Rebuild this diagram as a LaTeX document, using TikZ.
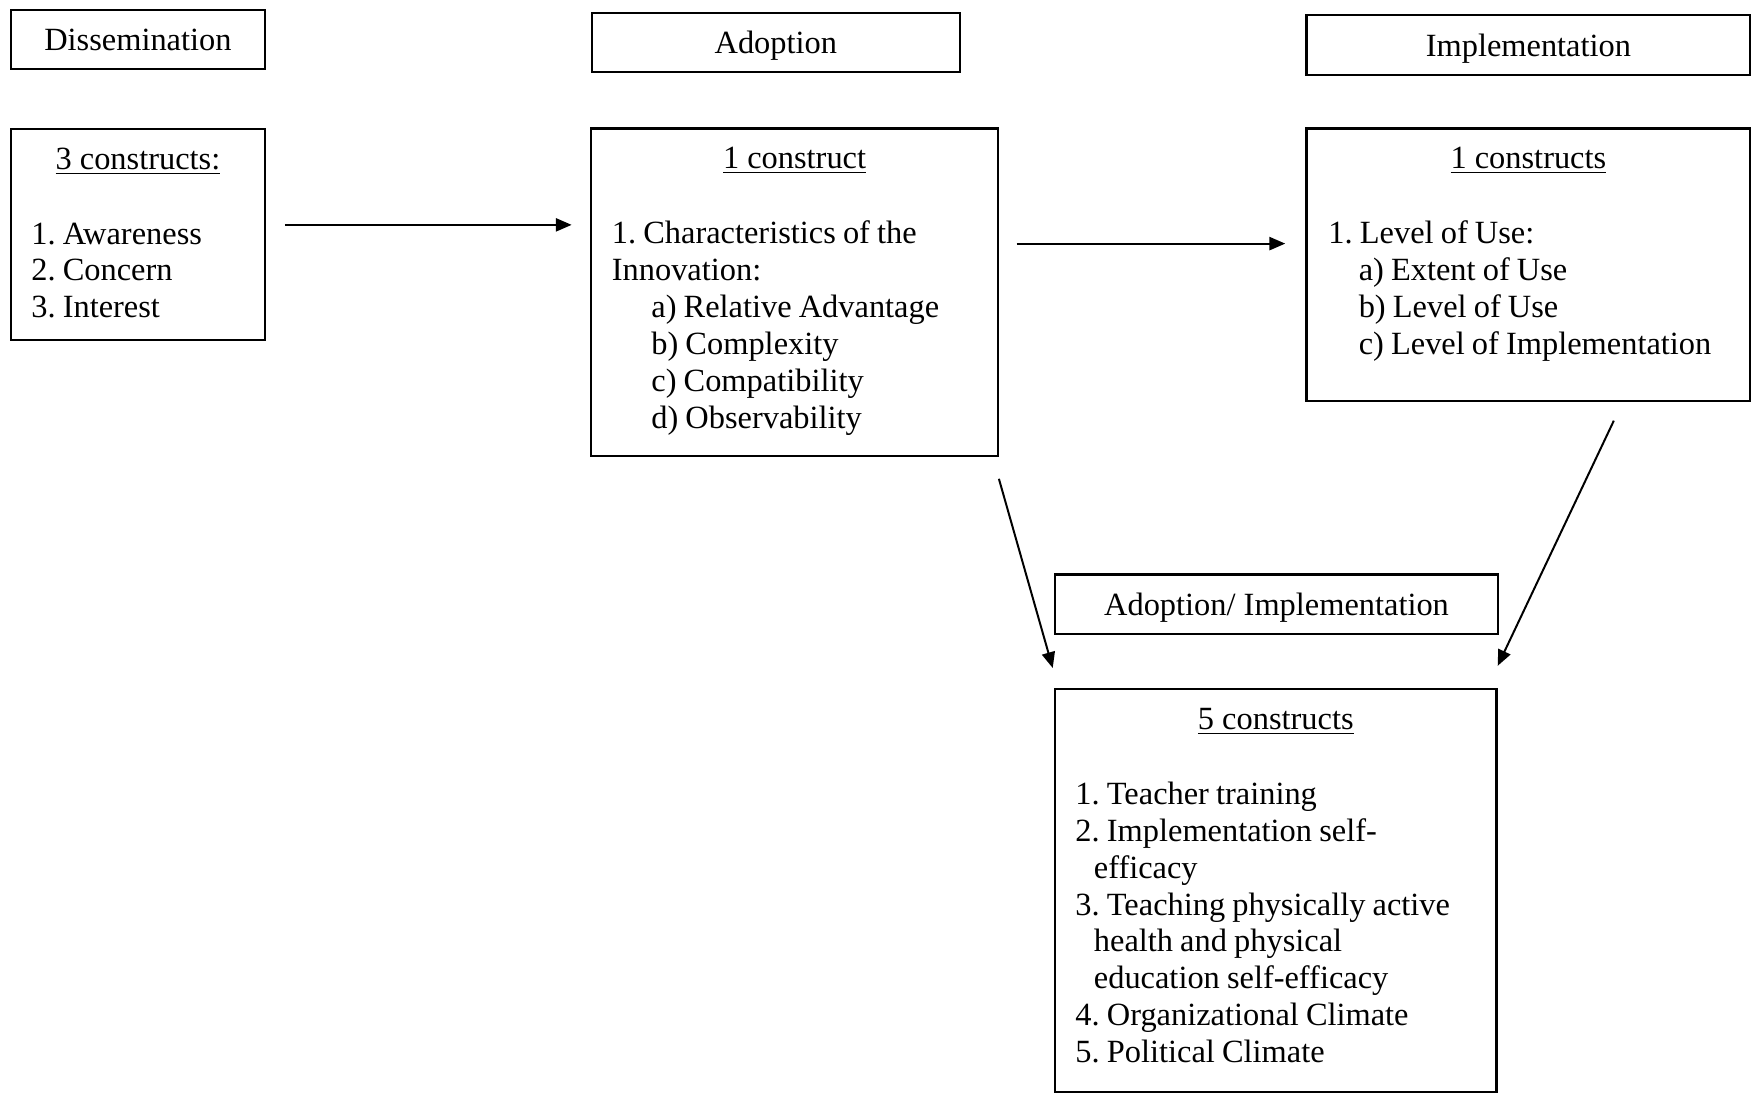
\documentclass[tikz,border=0pt]{standalone}
\usepackage{fontspec}
\setmainfont{Liberation Serif}
\usetikzlibrary{arrows.meta}
\frenchspacing

\begin{document}
\begin{tikzpicture}[every node/.style={font=\fontsize{12.3}{14}\selectfont},
	stage/.style={draw, line width=0.8pt, inner sep=0pt, minimum height=0.79cm, text depth=0pt},
	panel/.style={draw, line width=0.8pt, inner sep=0pt},
	head/.style={anchor=base, inner sep=0pt},
	items/.style={anchor=base west, align=left, inner sep=0pt, text width=#1,
		execute at begin node={\spaceskip=0.22em\relax}},
	flow/.style={-{Triangle[length=6pt,width=5pt]}, line width=0.75pt}]
	\useasboundingbox (0,0) rectangle (23.40,-14.58);
	\node[stage, minimum width=3.39cm] (dis) at (1.84,-0.53) {Dissemination};
	\node[stage, minimum width=4.91cm] (ado) at (10.35,-0.57) {Adoption};
	\node[stage, minimum width=5.92cm] (imp) at (20.39,-0.60) {Implementation};
	\node[stage, minimum width=5.92cm] (aimp) at (17.03,-8.06) {Adoption/ Implementation};
	\node[panel, minimum width=3.39cm, minimum height=2.82cm] (dbox) at (1.84,-3.13) {};
	\node[panel, minimum width=5.42cm, minimum height=4.37cm] (abox) at (10.60,-3.90) {};
	\node[panel, minimum width=5.92cm, minimum height=3.63cm] (ibox) at (20.39,-3.53) {};
	\node[panel, minimum width=5.89cm, minimum height=5.37cm] (aibox) at (17.02,-11.88) {};
	\node[head] (dtitle) at ([yshift=-0.55cm]dbox.north) {\underline{3 constructs:}};
	\node[head] (atitle) at ([yshift=-0.55cm]abox.north) {\underline{1 construct}};
	\node[head] (ititle) at ([yshift=-0.55cm]ibox.north) {\underline{1 constructs}};
	\node[head] (aititle) at ([yshift=-0.55cm]aibox.north) {\underline{5 constructs}};
	\node[items=3cm] (dlist) at ([shift={(0.28,-1.55)}]dbox.north west)
		{1. Awareness\\2. Concern\\3. Interest};
	\node[items=5cm] (alist) at ([shift={(0.28,-1.55)}]abox.north west)
		{1. Characteristics of the\\Innovation:\\\hspace*{15pt}a) Relative Advantage\\\hspace*{15pt}b) Complexity\\\hspace*{15pt}c) Compatibility\\\hspace*{15pt}d) Observability};
	\node[items=5.6cm] (ilist) at ([shift={(0.30,-1.55)}]ibox.north west)
		{1. Level of Use:\\\hspace*{11.5pt}a) Extent of Use\\\hspace*{11.5pt}b) Level of Use\\\hspace*{11.5pt}c) Level of Implementation};
	\node[items=5.5cm] (ailist) at ([shift={(0.28,-1.55)}]aibox.north west)
		{1. Teacher training\\2. Implementation self-\\\hspace*{7pt}efficacy\\3. Teaching physically active\\\hspace*{7pt}health and physical\\\hspace*{7pt}education self-efficacy\\4. Organizational Climate\\5. Political Climate};
	\coordinate (d2a) at ([yshift=0.13cm]dbox.east);
	\coordinate (a2i) at ([yshift=0.65cm]abox.east);
	\draw[flow, shorten <=0.25cm, shorten >=0.25cm] (d2a) -- (d2a -| abox.west);
	\draw[flow, shorten <=0.24cm, shorten >=0.27cm] (a2i) -- (a2i -| ibox.west);
	\draw[flow, shorten <=0.3cm, shorten >=0.28cm] ([xshift=-0.08cm]abox.south east) -- ([xshift=0.06cm]aibox.north west);
	\draw[flow, shorten <=0.28cm, shorten >=0.33cm] ([xshift=1.26cm]ibox.south) -- ([xshift=-0.14cm]aibox.north east);
\end{tikzpicture}
\end{document}
